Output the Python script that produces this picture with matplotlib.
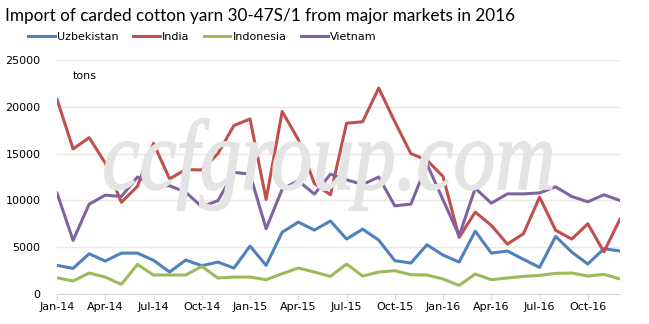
import matplotlib

matplotlib.use("Agg")
import matplotlib.pyplot as plt
import pandas as pd
from matplotlib.font_manager import FontProperties
from matplotlib.patches import PathPatch
from matplotlib.textpath import TextPath
from matplotlib.transforms import Affine2D

# monthly imports, tons
months = pd.date_range("2014-01-01", "2016-12-01", freq="MS")
uzbekistan = [3060, 2740, 4300, 3520, 4370, 4370, 3600, 2350, 3630, 3020, 3410, 2770,
              5120, 3060, 6600, 7680, 6830, 7800, 5870, 6930, 5760, 3560, 3310, 5260,
              4160, 3410, 6720, 4370, 4590, 3700, 2840, 6150, 4480, 3200, 4840, 4590]
india = [20800, 15500, 16700, 14000, 9800, 11500, 16100, 12300, 13300, 13250, 15000, 18000,
         18700, 10100, 19500, 16500, 11800, 10600, 18240, 18400, 22000, 18400, 15000, 14300,
         12550, 6050, 8750, 7330, 5330, 6440, 10350, 6800, 5870, 7500, 4500, 8000]
indonesia = [1740, 1390, 2240, 1810, 1030, 3160, 2030, 2030, 2030, 2950, 1710, 1810,
             1810, 1530, 2170, 2770, 2350, 1880, 3200, 1920, 2350, 2490, 2060, 2030,
             1600, 920, 2130, 1530, 1710, 1880, 1990, 2200, 2240, 1920, 2100, 1600]
vietnam = [10780, 5730, 9600, 10560, 10420, 12500, 11560, 11560, 10880, 9320, 9960, 13000,
           12800, 6970, 11200, 12100, 10670, 12800, 12200, 11700, 12500, 9420, 9600, 13870,
           10060, 6220, 11300, 9700, 10700, 10700, 10800, 11450, 10420, 9850, 10600, 9990]

series = [("Uzbekistan", uzbekistan, "#4f81bd"),
          ("India", india, "#c0504d"),
          ("Indonesia", indonesia, "#9bbb59"),
          ("Vietnam", vietnam, "#8064a2")]

W, H = 649, 324
fig = plt.figure(figsize=(W / 100, H / 100), dpi=100)
ax = fig.add_axes([57 / W, 1 - 294 / H, 563 / W, 234 / H])

# watermark: serif italic, drawn as a path so it can be squeezed to fit
wm = TextPath((0, 0), "ccfgroup.com", size=1,
              prop=FontProperties(family="Liberation Serif", style="italic"))
ext = wm.get_extents()
sx = 447 / ext.width
sy = 100
wm_tf = (Affine2D().translate(-ext.x0, 0).scale(sx, sy).translate(105, H - 189)
         .scale(1 / W, 1 / H) + fig.transFigure)
fig.add_artist(PathPatch(wm, transform=wm_tf, facecolor="#e4e4e4", edgecolor="#e4e4e4",
                         lw=1.2, zorder=0.5))
ax.set_facecolor("none")

x = list(range(len(months)))
handles = []
for name, values, color in series:
    h, = ax.plot(x, values, color=color, lw=2.2, label=name, zorder=3)
    handles.append(h)

ax.text(0.028, 0.93, "tons", transform=ax.transAxes, fontsize=8, va="center")

ax.set_ylim(0, 25000)
ax.set_xlim(0, len(months) - 1)
ax.set_yticks(range(0, 25001, 5000))
tick_pos = x[::3]
ax.set_xticks(tick_pos, [months[i].strftime("%b-%y") for i in tick_pos])
ax.tick_params(axis="y", length=0, labelsize=8, pad=12)
ax.tick_params(axis="x", length=4, color="#d9d9d9", labelsize=8, pad=2)
ax.grid(axis="y", color="#e8e8df", lw=1, zorder=0)
for side in ("top", "right", "left"):
    ax.spines[side].set_visible(False)
ax.spines["bottom"].set_color("#d9d9d9")

fig.text(5 / W, 1 - 16 / H, "Import of carded cotton yarn 30-47S/1 from major markets in 2016",
         fontsize=12.3, family="Lato", va="center")
fig.legend(handles=handles, loc="center left", bbox_to_anchor=(28 / W, 1 - 37 / H), ncol=4,
           frameon=False, fontsize=8, handlelength=2.4, handletextpad=0.2, columnspacing=1.3,
           borderaxespad=0, borderpad=0)

fig.savefig("out.png", dpi=100, facecolor="white")
